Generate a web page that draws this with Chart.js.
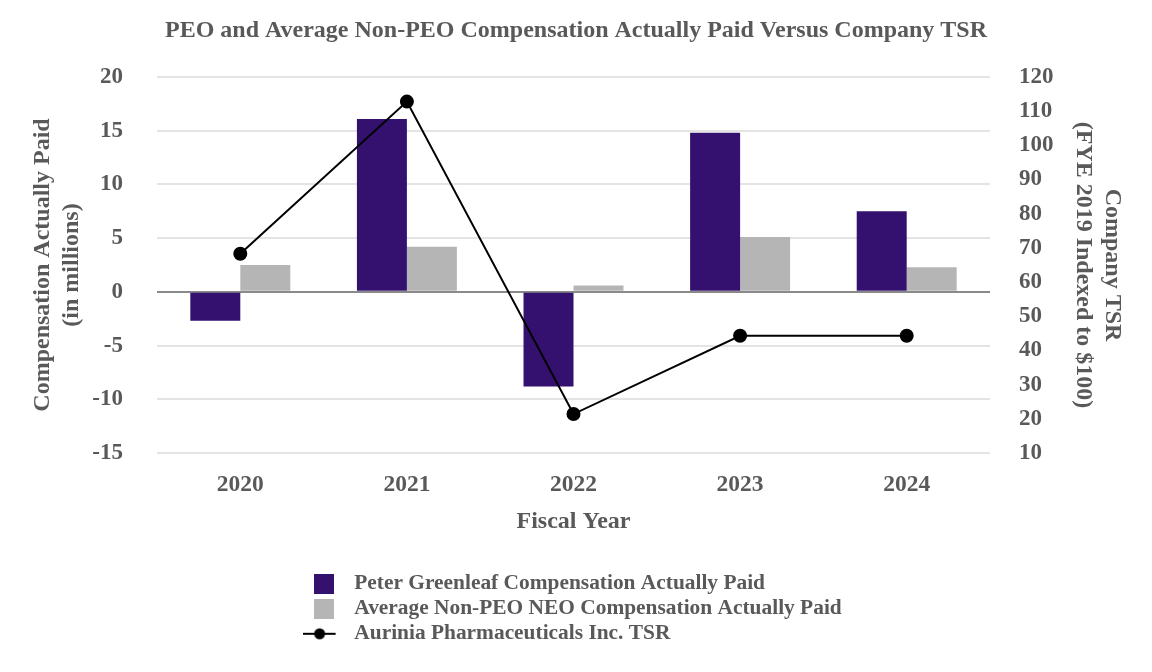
<!DOCTYPE html>
<html><head><meta charset="utf-8">
<script src="https://cdn.jsdelivr.net/npm/chart.js@4.4.1/dist/chart.umd.min.js"></script>
<style>html,body{margin:0;padding:0;background:#fff}#wrap{width:1152px;height:672px;position:relative}</style>
</head><body><div id="wrap"><canvas id="c"></canvas></div>
<script>
const years = ['2020', '2021', '2022', '2023', '2024'];
const peoCap = [-2.7, 16.1, -8.8, 14.8, 7.5];
const neoCap = [2.5, 4.2, 0.6, 5.1, 2.3];
const tsr = [68.3, 112.8, 21.4, 44.3, 44.3];
const seriesNames = ['Peter Greenleaf Compensation Actually Paid', 'Average Non-PEO NEO Compensation Actually Paid', 'Aurinia Pharmaceuticals Inc. TSR'];
const chartTitle = 'PEO and Average Non-PEO Compensation Actually Paid Versus Company TSR';
const leftTitle = ['Compensation Actually Paid', '(in millions)'];
const rightTitle = ['Company TSR', '(FYE 2019 Indexed to $100)'];
const xTitle = 'Fiscal Year';

const PURPLE = '#34106f', GRAY = '#b5b5b5', LINE = '#000000', TEXT = '#595959';
const FONT = "'Liberation Serif', 'Times New Roman', serif";

function squareIcon(color) {
  const c = document.createElement('canvas'); c.width = 20; c.height = 20;
  const x = c.getContext('2d'); x.fillStyle = color; x.fillRect(0, 0, 20, 20); return c;
}
function lineIcon(color) {
  const c = document.createElement('canvas'); c.width = 42; c.height = 14;
  const x = c.getContext('2d'); x.strokeStyle = color; x.lineWidth = 2;
  x.beginPath(); x.moveTo(0, 7); x.lineTo(33, 7); x.stroke();
  x.fillStyle = color; x.beginPath(); x.arc(17, 7, 5.5, 0, Math.PI * 2); x.fill(); return c;
}
const legendIcons = [squareIcon(PURPLE), squareIcon(GRAY), lineIcon(LINE)];

const legendShift = {
  id: 'legendShift',
  afterLayout(chart) {
    const lg = chart.legend; if (!lg) return;
    const w = lg.right - lg.left; lg.left = 300; lg.right = 300 + w;
  }
};

const bold = (size, lh) => ({ family: FONT, size: size, weight: 'bold', lineHeight: lh || 1.2 });

new Chart(document.getElementById('c'), {
  data: {
    labels: years,
    datasets: [
      { type: 'bar', label: seriesNames[0], data: peoCap, backgroundColor: PURPLE, yAxisID: 'y', order: 1,
        categoryPercentage: 0.6, barPercentage: 1.0 },
      { type: 'bar', label: seriesNames[1], data: neoCap, backgroundColor: GRAY, yAxisID: 'y', order: 1,
        categoryPercentage: 0.6, barPercentage: 1.0 },
      { type: 'line', label: seriesNames[2], data: tsr, yAxisID: 'y1', order: 0, borderColor: LINE, borderWidth: 2,
        backgroundColor: LINE, pointBackgroundColor: LINE, pointBorderColor: LINE, pointRadius: 6, pointHoverRadius: 6,
        tension: 0, fill: false }
    ]
  },
  options: {
    responsive: true, maintainAspectRatio: false, animation: false,
    layout: { padding: { left: 0, right: 0, top: 0, bottom: 17.5 } },
    plugins: {
      title: { display: true, text: chartTitle, color: TEXT, font: bold(24), padding: { top: 16.4, bottom: 31.8 } },
      tooltip: { enabled: false },
      legend: {
        position: 'bottom', fullSize: false, align: 'start',
        labels: {
          usePointStyle: true, pointStyleWidth: 40, boxHeight: 21.4, padding: 3.6, color: TEXT, font: bold(21.4),
          sort: (a, b) => a.datasetIndex - b.datasetIndex,
          generateLabels(chart) {
            const items = Chart.defaults.plugins.legend.labels.generateLabels(chart);
            items.forEach(it => { it.pointStyle = legendIcons[it.datasetIndex]; });
            return items;
          }
        }
      }
    },
    scales: {
      x: {
        grid: { display: false }, border: { display: false },
        ticks: { color: TEXT, font: bold(23.5), padding: 10 },
        title: { display: true, text: xTitle, color: TEXT, font: bold(24), padding: { top: 0, bottom: 33 } },
        afterFit(s) { s.height = 116.5; }
      },
      y: {
        position: 'left', min: -15, max: 20,
        ticks: { stepSize: 5, color: TEXT, font: bold(23), padding: 34 },
        grid: {
          drawTicks: false,
          color: c => (c.tick && c.tick.value === 0) ? '#8a8a8a' : '#e4e4e4',
          lineWidth: 2
        },
        border: { display: false },
        title: { display: true, text: leftTitle, color: TEXT, font: bold(24), padding: { top: 28.6, bottom: 0 } },
        afterFit(s) { s.width = 157; }
      },
      y1: {
        position: 'right', min: 10, max: 120,
        ticks: { stepSize: 10, color: TEXT, font: bold(23), padding: 29 },
        grid: { display: false, drawTicks: false }, border: { display: false },
        title: { display: true, text: rightTitle, color: TEXT, font: bold(24), padding: { top: 25.6, bottom: 0 } },
        afterFit(s) { s.width = 162; }
      }
    }
  },
  plugins: [legendShift]
});
</script>
</body></html>
